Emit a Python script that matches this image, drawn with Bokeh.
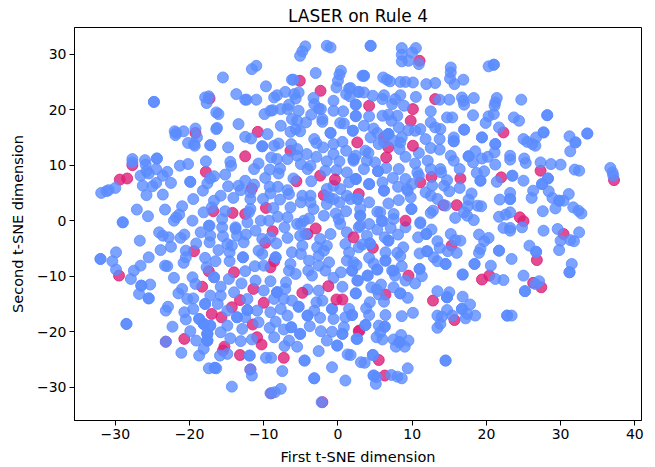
from bokeh.plotting import figure
from bokeh.embed import file_html
from bokeh.resources import INLINE
from bokeh.models import Range1d, Title, FixedTicker

title_text = "LASER on Rule 4"
x_label = "First t-SNE dimension"
y_label = "Second t-SNE dimension"
x_ticks = [-30, -20, -10, 0, 10, 20, 30, 40]
y_ticks = [-30, -20, -10, 0, 10, 20, 30]

red_under = [
(-5.14,25.2),(-2.35,23.4),(-17.3,22.0),(-10.8,16.0),(-19.2,15.8),(-12.5,11.6),(-6.4,12.6),(-27.7,10.0),(-17.8,8.8),
(-29.4,7.4),(-28.4,7.6),(-2.4,8.1),(-5.6,7.1),(-11.6,5.8),(-1.9,4.6),(2.8,4.8),(-9.7,2.3),(-14.2,1.4),(-16.8,1.7),(-12.5,1.2),
(11,28.8),(4.2,20.7),(13.1,21.9),(10.1,20.1),(9.8,18),(22.3,15.9),(6.8,13.2),(6.2,15),(27.3,9),(37.2,7.3),(22,7.8),(16.5,7.6),(12.6,7.9),(11.1,6.9),(14.2,2.8),(16,2.8),(24.5,0.6),(25,-0.1),
(-8.8,-1.9),(-9.8,-4),(-4.1,-2.4),(-19.4,-5.5),(-29.5,-9.9),(-17.4,-9.1),(-14,-9.3),(-9.1,-8.4),(-8.6,-7.3),(-18.3,-11.9),(-11.4,-12.3),(-10,-14.8),(-13.2,-14.3),(-14.3,-15.6),(-17,-16.8),(-15.7,-17.4),(-11.5,-18.7),(-20.7,-21.3),(-23.2,-21.8),(-10.9,-21),(-10.3,-22.3),(-15.3,-22.7),(-15.5,-23.4),(-13.2,-24.2),(-7.3,-24.7),(-11.8,-26.8),(-9,-31.1),(-2.1,-32.7),(2.9,-19.8),
(4.7,-4.9),(15.3,-4.5),(9.5,-9.9),(30.4,-2.4),(26.8,-7.1),(19.4,-10.6),(20.4,-9.9),(26.3,-11.2),(27.4,-12),(6.4,-13.3),(12.8,-14.4),(15.7,-17.9),(2.8,-19.9),(5.5,-25.1),(6.3,-27.9),
]

red_over = [(-0.4,7.4),(-1.3,-11.8),(9.1,0),(-0.2,-14.2),(0.6,-14.2),(2.1,-3),(-3.0,-1.4),(-4.8,-13),(2.6,14.1),(10.1,13.5),(6.5,11.4)]

blue_points = [
(-4.4,31.4),(-4.8,30.5),(-5.1,29.7),(-1.5,31.5),(-1.0,31.2),(-11.0,27.9),(-11.6,27.3),(-15.5,25.8),(-3.0,26.6),(-6.2,25.4),(-6.0,25.4),(0.4,27.0),(0.2,26.3),(0,25.2),(-0.2,24.0),(3.3,26.1),(-9.7,24.2),(1.5,23.8),(2.8,23.2),(-8.2,22.6),(-8.6,22.2),(-7.1,23.2),(-5.9,22.8),(-5.3,23.1),(-13.7,22.8),(-17.9,22.2),(-17.4,22.4),(-17.7,21.2),(-12.5,21.8),(-12.3,21.8),(-11,21.8),(-5.7,22.0),(-3.3,22.1),(-0.6,21.6),(1.1,22.8),(1.6,22.4),(2.4,20.9),(-24.8,21.4),(-24.8,21.4),(-16.4,19.5),(-16.1,19.2),(-9.9,19.2),(-9.1,19.8),(-8.8,19.9),(-7.7,20.1),(-6.8,20.1),(-6.6,20.9),(-5.3,19.8),(-3.2,21.0),(-2.6,20.2),(-2.3,20.1),(-0.6,19.8),(0.7,19.7),(2.4,18.9),(-6.2,18.3),(-5.5,18.0),(-4.3,17.7),(-3.6,19.1),(-2.1,18.3),(-2.1,17.8),(0.3,17.6),(0.8,17.5),(-13.4,17.4),(-7.7,17.1),(-16.4,16.5),(-16.3,16.7),(-19.2,16.6),(-20.8,16.1),(-22,16.1),(-21.8,15.8),(-21.9,15.4),(-19,15.0),(-6.4,16.0),(-5.7,16.5),(-5.1,16.1),(-1,15.8),(-1,15.8),(2.0,16.2),(-12.5,15.1),(-11.7,14.8),(-9.5,15.6),(-20.2,14),(-19.4,13.8),(-19.3,13.5),(-17.2,13.6),(-17.2,13.6),(-14.8,13.2),(-10.2,13.4),(-10.2,13.4),(-8.6,13.5),(-8,13.9),(-6.3,13.8),(-3.2,14.7),(-2.9,14),(-2,13.2),(-0.6,13.8),(0.6,14.2),(1.1,12.6),(-5.5,12.9),(-0.6,12),(-9,11.4),(-8.2,11.1),(-6.8,11.1),(-5.5,11.7),(-4.2,12),(-2.9,11.5),(-1.5,10.7),(0.2,10.7),(2.1,10.8),(2.4,11.7),(-24.4,11.2),(-24.4,11.2),(-27.7,11.1),(-27.7,10.5),(-26,10.9),(-25.9,10.1),(-17.8,10.7),(-14.5,10.6),(-14.4,9.9),(-20.2,10.2),(-21.3,9.9),(-10.7,10.3),(-11.3,9.3),(-5,10.2),(-3.7,9.9),(-4.1,9.3),(-9.2,9.2),(-7.8,9.4),(-8,8.5),(-24.5,9.3),(-25.8,8.9),(-25.5,8.5),(-26.6,8.1),(-23,8.8),(-23.6,8.1),(-0.2,9.1),(1.2,8.7),(-1.7,9),(2.4,7.5),(-15.2,8.3),(-16.7,8),(-17.2,7.6),(-6,7.6),(-9.8,7.7),(-3.6,7.1),(-19.9,7),(-19.9,7),(-22.5,6.8),(-24.5,6.8),(-25,6.2),(-26.3,6.3),(-17.6,6.7),(-14.8,6.2),(-12.5,7.2),(-13.4,6.3),(-11.3,6.5),(-9.2,6.1),(-8.1,6.1),(-6.8,5.5),(-30,5.9),(-30.9,5.5),(-31.2,5.3),(-31.9,5),(-18.2,5.4),(-13.1,5.5),(-11.8,5.1),(-9.1,4.9),(-6.6,4.8),(-1.5,5.7),(0.3,5.7),(-25.8,4.6),(-23.6,4.7),(-15.8,4.5),(-14.1,4.1),(-11.8,3.9),(-10.1,3.9),(-7.8,3.8),(-4.8,4.5),(-3.7,4.5),(-0.6,3.9),(1.2,4.5),(-19.5,3.9),(-16.7,3.6),(-5,3.3),(-3.7,3.3),(-1.5,3),(2.6,3.9),(-21,2.6),(-17,2.4),(-27.1,2),(-23.3,2),(-11.8,2.1),(-8.7,2.3),(-6.4,2.4),(-3.3,2.1),(-18.1,1.5),(-15.2,1.7),(-12,1.5),(1.1,1.7),(3,0.9),(-25.6,0.8),(-21.4,1.1),(-21.8,0.6),(-22.1,0),(-19.6,0),(-15.6,0.3),(-10.4,0),(-9.3,0),(-8.1,0.7),(-6.8,0.6),(-3.9,0.4),(-1.9,0.9),(0.1,0.3),(-29,-0.3),(-29,-0.3),(-17.4,-0.9),(-13.8,-1.2),(-12.2,-0.3),
(4.4,31.5),(4.4,31.5),(8.6,31.1),(10.5,31.1),(8.6,29.9),(10,30.3),(9.5,28.8),(8.6,28.7),(10.9,28.2),(20.3,27.8),(21,28.1),(21,28.1),(15.2,27.6),(15.2,26.7),(15.1,25.6),(16.9,25.4),(15.7,24.6),(3.5,26.1),(3.5,26.1),(6.1,25.8),(6.6,25.4),(7,25.1),(8.4,25),(9.1,25),(10.1,24.9),(11.9,24.6),(13.1,24.8),(1.7,23.9),(2.8,23.2),(3.5,23.1),(4.7,22.5),(6.2,22.6),(6,21.9),(8.4,22.6),(7.7,21.9),(10.5,22.3),(13.7,21.8),(15,21.8),(16.7,22.2),(16.9,21.6),(17,20.9),(18.3,22.1),(21.4,22.1),(21.2,21.3),(21.1,20.7),(24.7,21.8),(2.4,20.9),(7.3,21),(8.9,20.7),(12.5,19.7),(6,18.9),(6.8,19.1),(8,18.9),(2.4,18.8),(4.2,18.8),(7.2,18),(14.7,18.6),(15.4,18.6),(18.2,19),(20.3,18.8),(21,19.2),(19.9,17.6),(23.7,18.6),(24.4,18),(28.2,19),(28.2,19),(12.5,17.7),(13.1,16.8),(13.8,16.5),(11.1,16.5),(9.5,16.3),(10.4,16.2),(8.2,16.8),(3.5,17.1),(4.8,16.6),(5.3,15.8),(2,16.2),(4.4,15),(6.8,15.6),(6.8,15.6),(6.8,15.6),(6.2,14.1),(7.5,14.4),(8.6,15),(8.4,14.1),(11.8,14.7),(13.7,14.7),(15.6,15),(15.6,14.3),(15.6,14.3),(17,16.4),(17,16.4),(19.4,15),(19.4,15),(21.7,16.8),(21.2,13.8),(21.2,13.8),(25,14.7),(25.5,14.2),(26.2,13.8),(26.6,13.5),(26.7,15),(27.7,15.9),(27.7,15.9),(31.2,15.2),(32,14.1),(32,14.1),(31.3,12.5),(33.6,15.7),(33.6,15.7),(36.7,9.5),(37,8.7),(37.1,8.1),(3.7,12.6),(5.5,13.8),(4.1,12.2),(2.1,11.1),(2.1,11.1),(3.9,10.8),(5,10.5),(8.3,12.9),(9.1,11.5),(10.9,12.2),(12.5,13.1),(13.7,12.8),(15.2,11.7),(15.6,10.8),(16.4,9.3),(12.1,10.8),(10.4,10.3),(17.6,11.6),(17.6,11.6),(18.5,12.5),(18.2,10.5),(19.4,11.2),(20.2,11.5),(21.1,12.3),(21.2,10.1),(23.2,11.7),(23.2,11),(25.1,11.2),(25.3,10.4),(27.3,10.5),(28.7,10.2),(30,10.1),(31.9,9.2),(32.5,9),(18.7,8.6),(19.7,8.9),(19.2,7.2),(19.2,7.2),(21.4,7),(23.5,8.1),(23.5,8.1),(25,7.2),(28.3,7.6),(28.3,7.6),(27.5,6.6),(27.5,6.6),(28.4,5.3),(26.3,5.4),(26.1,4.1),(28.9,4.1),(31.1,4.8),(29.8,3.6),(29.8,3.6),(30.4,3.6),(29.3,2.2),(31.7,2.4),(32.4,1.8),(32.8,1.3),(27.6,1.7),(23.2,5),(23.2,3.9),(23.2,3.9),(21.8,3.8),(18,4.9),(17.6,3.8),(18.8,2.7),(19.3,2.6),(17.5,2.6),(17,1.5),(17.4,0.9),(15.8,0.5),(18.3,0.1),(21.7,0.7),(22.6,1.1),(23.2,1.5),(12.8,1.8),(12.5,1.4),(14.5,2.7),(9.9,2.1),(9.9,2.1),(8.2,3.7),(9.8,4.2),(9.3,5.7),(8.1,6.1),(9.1,7.5),(7.4,7.7),(8.2,9.3),(6.5,9.5),(5.4,8.9),(5.4,8.9),(6,6.9),(6.2,5.4),(6.2,5.4),(4.2,6.6),(4.2,6.6),(3.5,9.3),(2.4,7.5),(2.4,7.5),(4.2,3.3),(6.8,3.1),(3,2.1),(3,0.9),(5.3,1.6),(5.7,1.5),(5.9,0),(7.5,1.2),(7.5,0.3),(11.1,-0.3),(11.8,5.1),(12.5,4.5),(13.4,3.9),(14.3,6.3),(15,5.3),(16.4,5.9),(12.7,6.3),(10.7,8.7),(10.9,8.1),(12.5,9.3),(13.8,9.3),(13.9,8.7),(14.7,7.3),(9.4,5.4),(10,6.6),(2.7,3.9),
(-32,-6.9),(-32,-6.9),(-29.9,-5.7),(-30.4,-7.3),(-29.9,-8.8),(-26.7,-3.6),(-25.5,-6.6),(-26.6,-8.1),(-27.5,-9),(-27.9,-10.5),(-23.9,-5.3),(-24.1,-2.1),(-23.6,-2.7),(-22.8,-3),(-22.5,-4.7),(-21.2,-3.1),(-20.7,-2.5),(-23.3,-8.1),(-23,-8.2),(-22.1,-10.3),(-25.3,-11.5),(-26.5,-11.7),(-26.5,-11.7),(-26.8,-13.2),(-25.5,-14),(-25.5,-14),(-22.9,-15.5),(-23.2,-16.2),(-28.5,-18.6),(-28.5,-18.6),(-22.3,-19.1),(-23.2,-21.8),(-21.1,-23.8),(-20.5,-5.4),(-20.5,-6.6),(-20.8,-7.6),(-19.1,-4.1),(-18.5,-2.1),(-17.2,-2.7),(-17.3,-3.9),(-17.3,-0.9),(-15.6,-1.2),(-15.5,-2.8),(-13.8,-1.5),(-13.6,-2.7),(-12.4,-2.5),(-12.7,-3.9),(-14.9,-4.2),(-14.3,-4.5),(-16.1,-5.3),(-14.6,-5.7),(-12.8,-6.6),(-12.8,-6.6),(-17.9,-6.7),(-16.5,-7.3),(-14.6,-7.3),(-17.7,-8.4),(-12.5,-9.1),(-11.2,-8.2),(-10,-8.1),(-11.1,-1.8),(-10.2,-3.3),(-9.1,-3),(-8.3,-4.1),(-6.8,-3.1),(-7.2,-1.2),(-5.1,-2.7),(-4.8,-4.5),(-6.2,-5.7),(-5,-6),(-10.7,-5.4),(-10.2,-6),(-8.4,-6.6),(-8.4,-6.6),(-6.4,-7.8),(-6.6,-9),(-5.7,-9.6),(-4,-9),(-3.5,-9.9),(-2.6,-6.3),(-2.8,-4.8),(-1.5,-4.5),(-1,-2.4),(0.3,-0.6),(1.2,-2.1),(2.8,-1.2),(1,-4.2),(1.5,-5.7),(1.2,-7.2),(2.1,-7.5),(1.9,-9),(0.4,-9.3),(-1.2,-7.5),(-2.6,-8.1),(-1.7,-9),(-0.6,-10.3),(2.6,-10.8),(0.6,-11.9),(-2.6,-12.6),(2.4,-13.1),(2.4,-13.1),(-4.1,-12.4),(-7,-11.1),(-11.1,-10.8),(-9.1,-10.9),(-13,-11.3),(-16.7,-10.2),(-16.7,-10.2),(-14.7,-10.5),(-19.6,-10.2),(-19.2,-11.4),(-15.8,-11.9),(-14,-12.9),(-21,-12.3),(-21.5,-13.1),(-20.3,-14.1),(-19.5,-14),(-17.2,-13.5),(-15.8,-13.5),(-17.9,-15),(-17.9,-15),(-16.2,-15),(-10,-12.6),(-8.2,-12.9),(-8.2,-12.9),(-8.2,-12.9),(-7.1,-12.3),(-7.3,-14.1),(-6.2,-14.4),(-5.3,-15.5),(-5.3,-15.5),(-8.6,-14.1),(-12.2,-14.1),(-12.2,-16.1),(-12.2,-16.1),(-10.9,-16.2),(-9.1,-16.5),(-7.7,-15.9),(-6.8,-17.1),(-14.9,-16.2),(-19.5,-15.9),(-20.7,-16.5),(-20.5,-17.8),(-18.7,-17.7),(-18.7,-17.7),(-18.1,-18.6),(-18.1,-18.6),(-18.1,-18.6),(-17.2,-18.9),(-17.2,-18.9),(-13.6,-17.4),(-13.6,-17.4),(-12.5,-17.4),(-10.7,-18.3),(-8.4,-18.2),(-9.2,-19.3),(-14.9,-18.9),(-12.9,-19.5),(-19.9,-19.9),(-19.1,-21.6),(-17.6,-20.4),(-17.6,-20.4),(-17.6,-20.4),(-17.6,-21.6),(-17.6,-21.6),(-17.6,-21.6),(-18.1,-23.1),(-18.7,-24.3),(-15.8,-20.1),(-14.5,-21.2),(-13.1,-21.7),(-11.6,-21.4),(-8.6,-21),(-7.3,-19.6),(-6.3,-19.2),(-6.3,-19.2),(-5.1,-20.4),(-5.1,-20.4),(-6.6,-21.6),(-7.2,-22.6),(-5.5,-22.7),(-3.8,-19),(-2.3,-19.9),(-4.1,-17.1),(-4.1,-17.1),(-3.2,-16.2),(-2.4,-17.5),(-2.9,-14.7),(-2.1,-14.4),(-0.8,-15.9),(-0.8,-15.9),(-0.6,-17.7),(1.5,-15.9),(1,-17.4),(1.9,-17),(0.8,-19.2),(-0.8,-20),(0.6,-20.4),(0.6,-20.4),(-0.1,-22.5),(-0.1,-22.5),(-1.5,-21.6),(2.5,-21.3),(-2.6,-23.5),(-4.5,-25.2),(-4.5,-25.2),(-0.8,-26.4),(1.3,-24.1),(-3.2,-28.4),(-3.2,-28.4),(1,-28.8),(3.1,-25.5),(-9.7,-24.7),(-9,-24.7),(-11.9,-24.3),(-11.9,-24.3),(-15.9,-24.3),(-14.9,-24),(-17.4,-26.6),(-16.6,-26.5),(-16.6,-26.5),(-16.4,-26.6),(-7.5,-27.1),(-11.6,-27.9),(-11.8,-26.8),(-14.3,-29.9),(-7.7,-30.3),(-8.5,-30.9),(-9.1,-31.1),(-2.2,-32.7),
(27.7,-1.8),(29.6,-1.5),(32.5,-2.1),(30,-3.6),(31.3,-3.5),(31.8,-3.7),(29.8,-5.3),(25.8,-4.5),(26.7,-5.6),(26.7,-5.6),(23.4,-6.9),(21.7,-5.4),(21.7,-5.4),(20.3,-3.1),(19.7,-3.7),(19,-2.5),(19.2,-5.1),(19,-5.8),(22.3,-1.3),(23.2,-1.3),(23.2,-1.8),(24.8,-1.2),(20.6,-8.1),(18.4,-7.8),(18.4,-7.8),(16.8,-9.7),(16.8,-9.7),(14.5,-7.8),(14.5,-7.8),(13.4,-7.3),(12.9,-6.6),(16,-5.8),(14.8,-5.5),(13.7,-4.9),(13.4,-3.7),(16.5,-3.6),(15.2,-2.4),(15.8,-3.5),(12.6,-1.6),(11.9,-2.4),(11.9,-2.4),(10.8,-3),(12,-5.5),(12,-5.5),(11,-5.9),(11,-8.7),(11,-8.7),(11.3,-10),(10.4,-11.3),(9.1,-10.8),(7.7,-9.9),(7.3,-9),(8.6,-8.2),(6.4,-7.2),(6.4,-7.2),(6.4,-5.7),(8,-5.8),(8.4,-6.4),(8.8,-4.8),(8.1,-2.5),(6.8,-3.6),(6.8,-3.6),(6.3,-3),(7.1,-1.3),(5.3,-1.6),(3.9,-2.7),(3,-0.9),(4.2,-0.6),(6,-0.1),(9.1,-1.2),(11.1,-0.5),(4.3,-4.1),(4.3,-4.1),(3.3,-4.3),(2.8,-4.8),(4.2,-6.7),(4.8,-7.7),(5.3,-8.8),(5.3,-8.8),(2.5,-8),(1.9,-9),(4,-9.9),(4,-9.9),(2.7,-10.8),(4.5,-12),(5.8,-11.5),(5.2,-12.4),(5.5,-13.3),(6.2,-14.6),(7.5,-12),(8.4,-13.1),(8.4,-13.1),(9.4,-13.9),(4.3,-14.7),(3.8,-15.8),(4.2,-17),(1.9,-17),(6.4,-17),(8.6,-17.2),(10.1,-16.6),(3.7,-18.8),(3.7,-18.8),(5.5,-18.9),(6.3,-19.1),(6.3,-19.1),(5.7,-20.1),(5.2,-21),(6,-21.4),(2.6,-21.3),(7.5,-21.4),(8.5,-20.6),(9.5,-21.6),(8.3,-21.9),(8.3,-21.9),(8.3,-21.9),(7.8,-22.7),(9,-22.7),(4.7,-24.2),(4.7,-24.2),(3.6,-25.6),(1.7,-24.2),(9.4,-26.6),(14.5,-25.2),(14.5,-25.2),(7.2,-27.8),(8,-28.1),(8.6,-28.4),(4.8,-27.9),(4.8,-27.9),(5.2,-28.2),(5.1,-29.4),(13.4,-12.7),(15,-12.9),(14.7,-13.8),(14.7,-13.8),(14.7,-13.8),(16.8,-13.7),(17.8,-15.1),(16.7,-15.9),(16.7,-15.9),(14.7,-16.1),(13.4,-17.1),(14,-17.3),(15.4,-17.1),(18.5,-17.1),(17.2,-17.6),(17.4,-16.8),(13.8,-18.6),(13.4,-19.3),(22.8,-17.1),(22.8,-17.1),(23.4,-17.1),(25,-9.9),(27.1,-10.9),(26.6,-11.4),(25.2,-12.7),(25.2,-12.7),(31.5,-7.8),(31.2,-9.3),(31.2,-9.3),(21.2,-10.5),(22.3,-10.7),(7.5,-9),
]

# second reading of the dense centre of the cloud
blue_centre = [
(-1,15.7),(-3.2,14.4),(-0.6,13.8),(0.6,14.1),(-0.8,12),(1.2,12.6),(-1.9,11.1),(0.3,10.7),(2.1,11.1),(3.9,12.6),(3.9,10.8),(5.1,10.5),(5.5,9),(8.2,9.3),(6.6,9.4),(1.2,8.7),(2.8,8.1),(1.5,6.9),(0.3,6.3),(-0.6,6.3),(4.2,6.7),(6,6.9),(6,5.4),(8.2,6.1),(9.4,5.5),(10.7,8.1),(10.4,10.2),(9.1,7.7),(4.2,3.3),(6.9,3.3),(8.3,3.7),(9.9,2.1),(3,1.8),(5.5,1.6),(0.3,0.3),(-1.9,1.2),(1.2,1.8),(-0.3,1.3),(3,0.7),(7.8,0),(11.2,-0.3),(-4.6,0),(-5.5,-0.6),(-3.3,2.1),(-4.4,4.2),(-3.7,4.5),(-1.2,4.2),(0.2,3.3),(1.7,3.9),(-3.7,6.9),(-4.8,4.8),(4.4,-0.9),
(-4.4,-2.4),(-5,-0.6),(-2.4,-3.3),(-1.2,-2.1),(-1.1,-4.5),(-2.6,-4.8),(-1.9,-5.4),(-4.8,-4.5),(-5.9,-5.7),(-4.7,-6),(-3.9,-7.2),(-2.4,-7.8),(-1.1,-7.2),(-1.2,-8.4),(-1.7,-9),(1.2,-5.7),(1,-7.2),(1.7,-7.5),(2.6,-7.8),(1.9,-9),(0.3,-9.3),(4.2,-6.6),(5.3,-8.7),(6.5,-7.2),(6.4,-5.7),(8,-6),(8.8,-4.8),(6.9,-3.6),(8.2,-2.5),(5.5,-1.5),(7.1,-1.2),(4,-9.9),(2.6,-10.8),(-0.8,-10.5),(-3.5,-10.2),(-3.9,-9),(-5.9,-9.6),(-2.6,-12.6),(0.6,-11.9),(2.4,-13.2),(4.4,-12),(5.5,-12.9),(7.5,-12),(8.7,-13.2),(10.4,-11.3),(9.1,-11.1),(7.3,-9),(8.9,-8.3),(10.9,-8.7),(4.3,-14.6),(3.7,-15.6),(-2.8,-14.7),(1.5,-15.6),(-0.8,-15.9),(-3.5,-16.2),(-5.7,-15),(6.4,-17),(8.6,-17.1),(10.1,-16.7),
]

# a point of the second reading that lies on one of the first is the same mark
all_blue = list(blue_points)
for bx, by in blue_centre:
    if not any(abs(bx - ox) < 0.6 and abs(by - oy) < 0.6 for ox, oy in blue_points):
        all_blue.append((bx, by))

red_x, red_y = zip(*red_under)
over_x, over_y = zip(*red_over)
blue_x, blue_y = zip(*all_blue)

p = figure(width=647, height=467, output_backend="svg", toolbar_location=None,
           x_range=Range1d(-35.5, 40.9), y_range=Range1d(-36, 34.8), tools="",
           min_border_left=74, min_border_right=6, min_border_top=27, min_border_bottom=47)
p.grid.visible = False
p.outline_line_color = "#000000"
p.outline_line_width = 1
p.background_fill_color = "#ffffff"

style = dict(size=11, marker="circle", alpha=0.8)
p.scatter(list(red_x), list(red_y), fill_color="#DC1E78", line_color="#DC1E78", **style)
p.scatter(list(blue_x), list(blue_y), fill_color="#5B8CFF", line_color="#5B8CFF", **style)
p.scatter(list(over_x), list(over_y), fill_color="#DC1E78", line_color="#DC1E78", **style)

for ax, ticks, lab, standoff in [(p.xaxis[0], x_ticks, x_label, 7), (p.yaxis[0], y_ticks, y_label, 8)]:
    ax.ticker = FixedTicker(ticks=ticks)
    ax.axis_label = lab
    ax.axis_label_text_font = "DejaVu Sans"
    ax.axis_label_text_font_size = "14.5px"
    ax.axis_label_text_font_style = "normal"
    ax.axis_label_text_color = "#000000"
    ax.major_label_text_font = "DejaVu Sans"
    ax.major_label_text_font_size = "14px"
    ax.major_label_text_color = "#000000"
    ax.major_tick_out = 5
    ax.major_tick_in = 0
    ax.minor_tick_out = 0
    ax.minor_tick_in = 0
    ax.major_tick_line_color = "#000000"
    ax.axis_line_color = "#000000"
    ax.major_label_standoff = 3
    ax.axis_label_standoff = standoff

p.title = Title(text=title_text, align="center", text_font="DejaVu Sans", text_font_size="17px",
                text_font_style="normal", text_color="#000000", offset=0, standoff=4)

open("out.html", "w").write(file_html(p, INLINE))
